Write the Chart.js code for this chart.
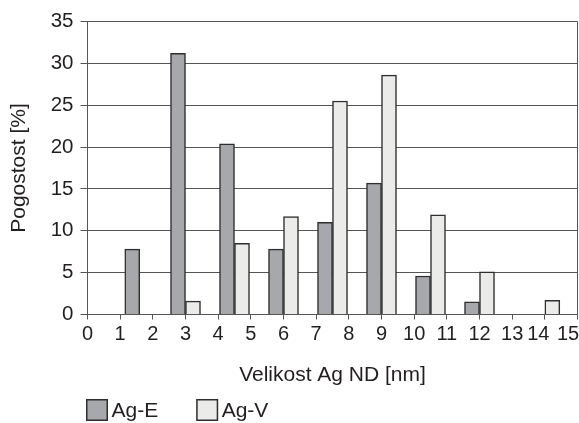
<!DOCTYPE html>
<html>
<head>
<meta charset="utf-8">
<script src="https://cdn.jsdelivr.net/npm/chart.js@4/dist/chart.umd.min.js"></script>
<style>
  html, body { margin: 0; padding: 0; background: #ffffff; }
  #wrap { width: 579px; height: 423px; position: relative; }
  canvas { display: block; }
</style>
</head>
<body>
<div id="wrap"><canvas id="c" width="579" height="423"></canvas></div>
<script>
// ---- data ----
const binCenters = [1.6, 3, 4.5, 6, 7.5, 9, 10.5, 12, 14];
const agE = [7.8, 31.2, 20.4, 7.8, 11.0, 15.7, 4.6, 1.5, null];
const agV = [null, 1.6, 8.5, 11.7, 25.5, 28.6, 11.9, 5.1, 1.7];
const xTickValues = [0, 1, 2, 3, 4, 5, 6, 7, 8, 9, 10, 11, 12, 13, 14, 15];
const yTickValues = [0, 5, 10, 15, 20, 25, 30, 35];
const seriesNames = ['Ag-E', 'Ag-V'];
const xTitle = 'Velikost Ag ND [nm]';
const yTitle = 'Pogostost [%]';

// ---- styles ----
const FONT = '"Liberation Sans", Arial, Helvetica, sans-serif';
const TEXT = '#231f20';
const LINE = '#555555';
const FILL_E = '#a7a8ac';
const FILL_V = '#ebecea';
const EDGE = '#2e2e2e';

const toPoints = (xs, ys) => xs.map((x, i) => ({ x: x, y: ys[i] }));

// the last tick labels sit slightly left of their ticks in the reference (kept inside the frame)
const labelNudge = {
  id: 'labelNudge',
  beforeDraw(chart) {
    const sx = chart.scales.x;
    const items = sx.getLabelItems(chart.chartArea);
    const shift = { 14: -6.5, 15: -9.5 };
    items.forEach((it) => {
      const d = shift[it.label];
      if (d && !it._nudged) {
        it.options.translation = [it.options.translation[0] + d, it.options.translation[1]];
        it._nudged = true;
      }
    });
  }
};

const boxLegend = {
  id: 'boxLegend',
  afterDraw(chart) {
    const ctx = chart.ctx;
    const s = 22, top = 399;
    let x = 86;
    ctx.save();
    ctx.font = '21px ' + FONT;
    ctx.textBaseline = 'middle';
    ctx.textAlign = 'left';
    chart.data.datasets.forEach((ds) => {
      ctx.fillStyle = ds.backgroundColor;
      ctx.fillRect(x, top, s, s);
      ctx.strokeStyle = ds.borderColor;
      ctx.lineWidth = 1.5;
      ctx.strokeRect(x + 0.75, top + 0.75, s - 1.5, s - 1.5);
      ctx.fillStyle = TEXT;
      const tx = x + s + 3.5;
      ctx.fillText(ds.label, tx, top + s / 2 + 1);
      x = tx + ctx.measureText(ds.label).width + 38;
    });
    ctx.restore();
  }
};

new Chart(document.getElementById('c'), {
  type: 'bar',
  data: {
    datasets: [
      { label: seriesNames[0], data: toPoints(binCenters, agE), backgroundColor: FILL_E, borderColor: EDGE, borderWidth: 1.5 },
      { label: seriesNames[1], data: toPoints(binCenters, agV), backgroundColor: FILL_V, borderColor: EDGE, borderWidth: 1.5 }
    ]
  },
  options: {
    responsive: false,
    animation: false,
    devicePixelRatio: 1,
    barThickness: 15,
    layout: { padding: { left: 0, right: 1.5, top: 21.5, bottom: 0 } },
    plugins: { legend: { display: false }, tooltip: { enabled: false } },
    scales: {
      x: {
        type: 'linear',
        min: 0, max: 15,
        offset: false,
        afterBuildTicks: (scale) => { scale.ticks = xTickValues.map(v => ({ value: v })); },
        afterFit: (scale) => { scale.height = 108.5; scale.paddingLeft = 0; scale.paddingRight = 0; },
        grid: {
          offset: false,
          drawOnChartArea: true,
          color: (c) => (c.tick && c.tick.value === 15 ? LINE : 'rgba(0,0,0,0)'),
          tickColor: LINE,
          tickLength: 5,
          lineWidth: 1
        },
        border: { display: true, color: LINE, width: 1 },
        ticks: { color: TEXT, font: { family: FONT, size: 20 }, padding: 2.5, maxRotation: 0, autoSkip: false },
        title: { display: true, text: xTitle, color: TEXT, font: { family: FONT, size: 21 }, padding: { top: 0, bottom: 35 } }
      },
      y: {
        min: 0, max: 35,
        afterBuildTicks: (scale) => { scale.ticks = yTickValues.map(v => ({ value: v })); },
        afterFit: (scale) => { scale.width = 87.5; scale.paddingTop = 0; scale.paddingBottom = 0; },
        grid: { color: LINE, tickColor: LINE, tickLength: 7, lineWidth: 1 },
        border: { display: true, color: LINE, width: 1 },
        ticks: { color: TEXT, font: { family: FONT, size: 20.5 }, padding: 7 },
        title: { display: true, text: yTitle, color: TEXT, font: { family: FONT, size: 21 }, padding: { top: 7, bottom: 0 } }
      }
    }
  },
  plugins: [labelNudge, boxLegend]
});
</script>
</body>
</html>
